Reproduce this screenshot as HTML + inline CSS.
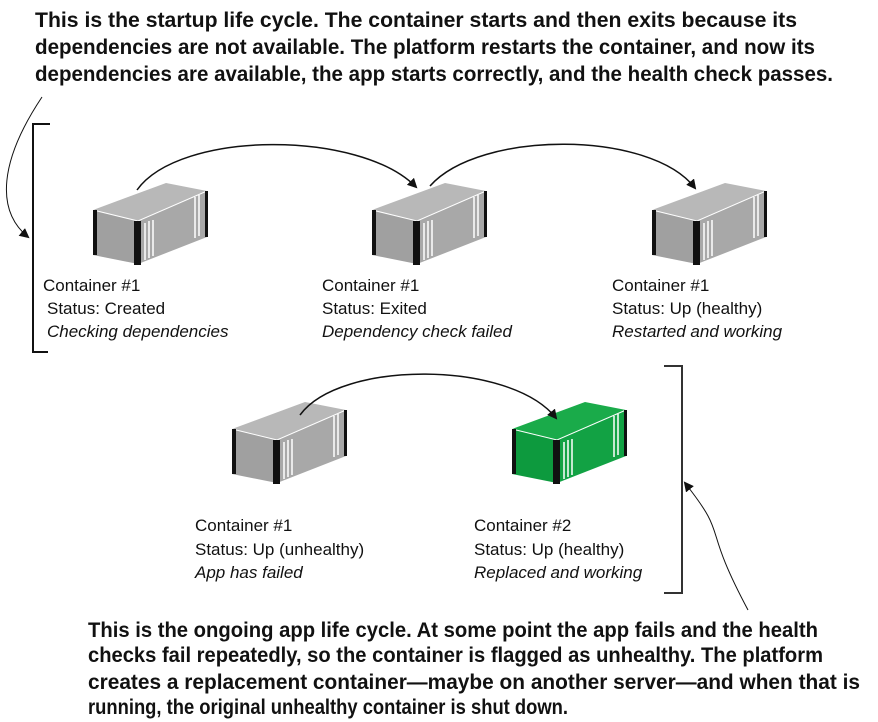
<!DOCTYPE html>
<html><head><meta charset="utf-8"><style>
html,body{margin:0;padding:0;background:#fff;}
svg{display:block}
.b{font-family:"Liberation Sans",sans-serif;font-weight:bold;font-size:21px;fill:#111}
.l{font-family:"Liberation Sans",sans-serif;font-size:17px;fill:#111}
.i{font-style:italic}
</style></head><body>
<svg width="878" height="722" viewBox="0 0 878 722" xmlns="http://www.w3.org/2000/svg">
<defs>
<marker id="ah" markerWidth="10" markerHeight="10" refX="8" refY="5" orient="auto" markerUnits="userSpaceOnUse">
<path d="M0,0 L10,5 L0,10 Z" fill="#111"/></marker>
<g id="box">
  <polygon points="0,27 45,38 114,8 73,0" fill="#b8b8b8"/>
  <polygon points="0,27 45,38 45,81 0,72" fill="#a0a0a0"/>
  <polygon points="45,38 114,8 114,54 45,81" fill="#a8a8a8"/>
  <polyline points="0,27 45,38 114,8" fill="none" stroke="#fff" stroke-width="1"/>
  <rect x="0" y="27" width="4" height="45" fill="#111"/>
  <rect x="41" y="38" width="7" height="44" fill="#111"/>
  <rect x="112" y="8" width="3" height="46" fill="#111"/>
  <g stroke="#fff" stroke-width="1.5">
    <line x1="52" y1="40" x2="52" y2="77"/><line x1="56" y1="38" x2="56" y2="75"/><line x1="60" y1="37" x2="60" y2="73"/>
    <line x1="102" y1="14" x2="102" y2="55"/><line x1="106" y1="12" x2="106" y2="53"/>
  </g>
</g>
</defs>

<text class="b" x="35" y="27" textLength="762" lengthAdjust="spacingAndGlyphs">This is the startup life cycle. The container starts and then exits because its</text>
<text class="b" x="35" y="54" textLength="780" lengthAdjust="spacingAndGlyphs">dependencies are not available. The platform restarts the container, and now its</text>
<text class="b" x="35" y="81" textLength="798" lengthAdjust="spacingAndGlyphs">dependencies are available, the app starts correctly, and the health check passes.</text>

<path d="M42,97 C0,160 -5,210 28,237" fill="none" stroke="#111" stroke-width="1" marker-end="url(#ah)"/>
<polyline points="50,124 33,124 33,352 48,352" fill="none" stroke="#111" stroke-width="2"/>

<use href="#box" x="93" y="183"/>
<use href="#box" x="372" y="183"/>
<use href="#box" x="652" y="183"/>
<use href="#box" x="232" y="402"/>
<g transform="translate(512,402)">
  <polygon points="0,27 45,38 114,8 73,0" fill="#1aab4a"/>
  <polygon points="0,27 45,38 45,81 0,72" fill="#0d9a3e"/>
  <polygon points="45,38 114,8 114,54 45,81" fill="#12a244"/>
  <polyline points="0,27 45,38 114,8" fill="none" stroke="#fff" stroke-width="1"/>
  <rect x="0" y="27" width="4" height="45" fill="#111"/>
  <rect x="41" y="38" width="7" height="44" fill="#111"/>
  <rect x="112" y="8" width="3" height="46" fill="#111"/>
  <g stroke="#fff" stroke-width="1.5">
    <line x1="52" y1="40" x2="52" y2="77"/><line x1="56" y1="38" x2="56" y2="75"/><line x1="60" y1="37" x2="60" y2="73"/>
    <line x1="102" y1="14" x2="102" y2="55"/><line x1="106" y1="12" x2="106" y2="53"/>
  </g>
</g>

<path d="M137,190 C180,130 360,130 416,187" fill="none" stroke="#111" stroke-width="1.5" marker-end="url(#ah)"/>
<path d="M430,186 C480,130 650,130 695,188" fill="none" stroke="#111" stroke-width="1.5" marker-end="url(#ah)"/>
<path d="M300,415 C340,360 510,360 556,418" fill="none" stroke="#111" stroke-width="1.5" marker-end="url(#ah)"/>

<text class="l" x="43" y="291">Container #1</text>
<text class="l" x="47" y="314">Status: Created</text>
<text class="l i" x="47" y="337">Checking dependencies</text>
<text class="l" x="322" y="291">Container #1</text>
<text class="l" x="322" y="314">Status: Exited</text>
<text class="l i" x="322" y="337">Dependency check failed</text>
<text class="l" x="612" y="291">Container #1</text>
<text class="l" x="612" y="314">Status: Up (healthy)</text>
<text class="l i" x="612" y="337">Restarted and working</text>
<text class="l" x="195" y="531">Container #1</text>
<text class="l" x="195" y="555">Status: Up (unhealthy)</text>
<text class="l i" x="195" y="578">App has failed</text>
<text class="l" x="474" y="531">Container #2</text>
<text class="l" x="474" y="555">Status: Up (healthy)</text>
<text class="l i" x="474" y="578">Replaced and working</text>

<polyline points="664,366 682,366 682,593 664,593" fill="none" stroke="#333" stroke-width="2"/>
<path d="M748,610 C700,520 730,540 685,483" fill="none" stroke="#111" stroke-width="1" marker-end="url(#ah)"/>

<text class="b" x="88" y="637" textLength="730" lengthAdjust="spacingAndGlyphs">This is the ongoing app life cycle. At some point the app fails and the health</text>
<text class="b" x="88" y="662" textLength="735" lengthAdjust="spacingAndGlyphs">checks fail repeatedly, so the container is flagged as unhealthy. The platform</text>
<text class="b" x="88" y="689" textLength="772" lengthAdjust="spacingAndGlyphs">creates a replacement container—maybe on another server—and when that is</text>
<text class="b" x="88" y="714" textLength="480" lengthAdjust="spacingAndGlyphs">running, the original unhealthy container is shut down.</text>
</svg>
</body></html>
